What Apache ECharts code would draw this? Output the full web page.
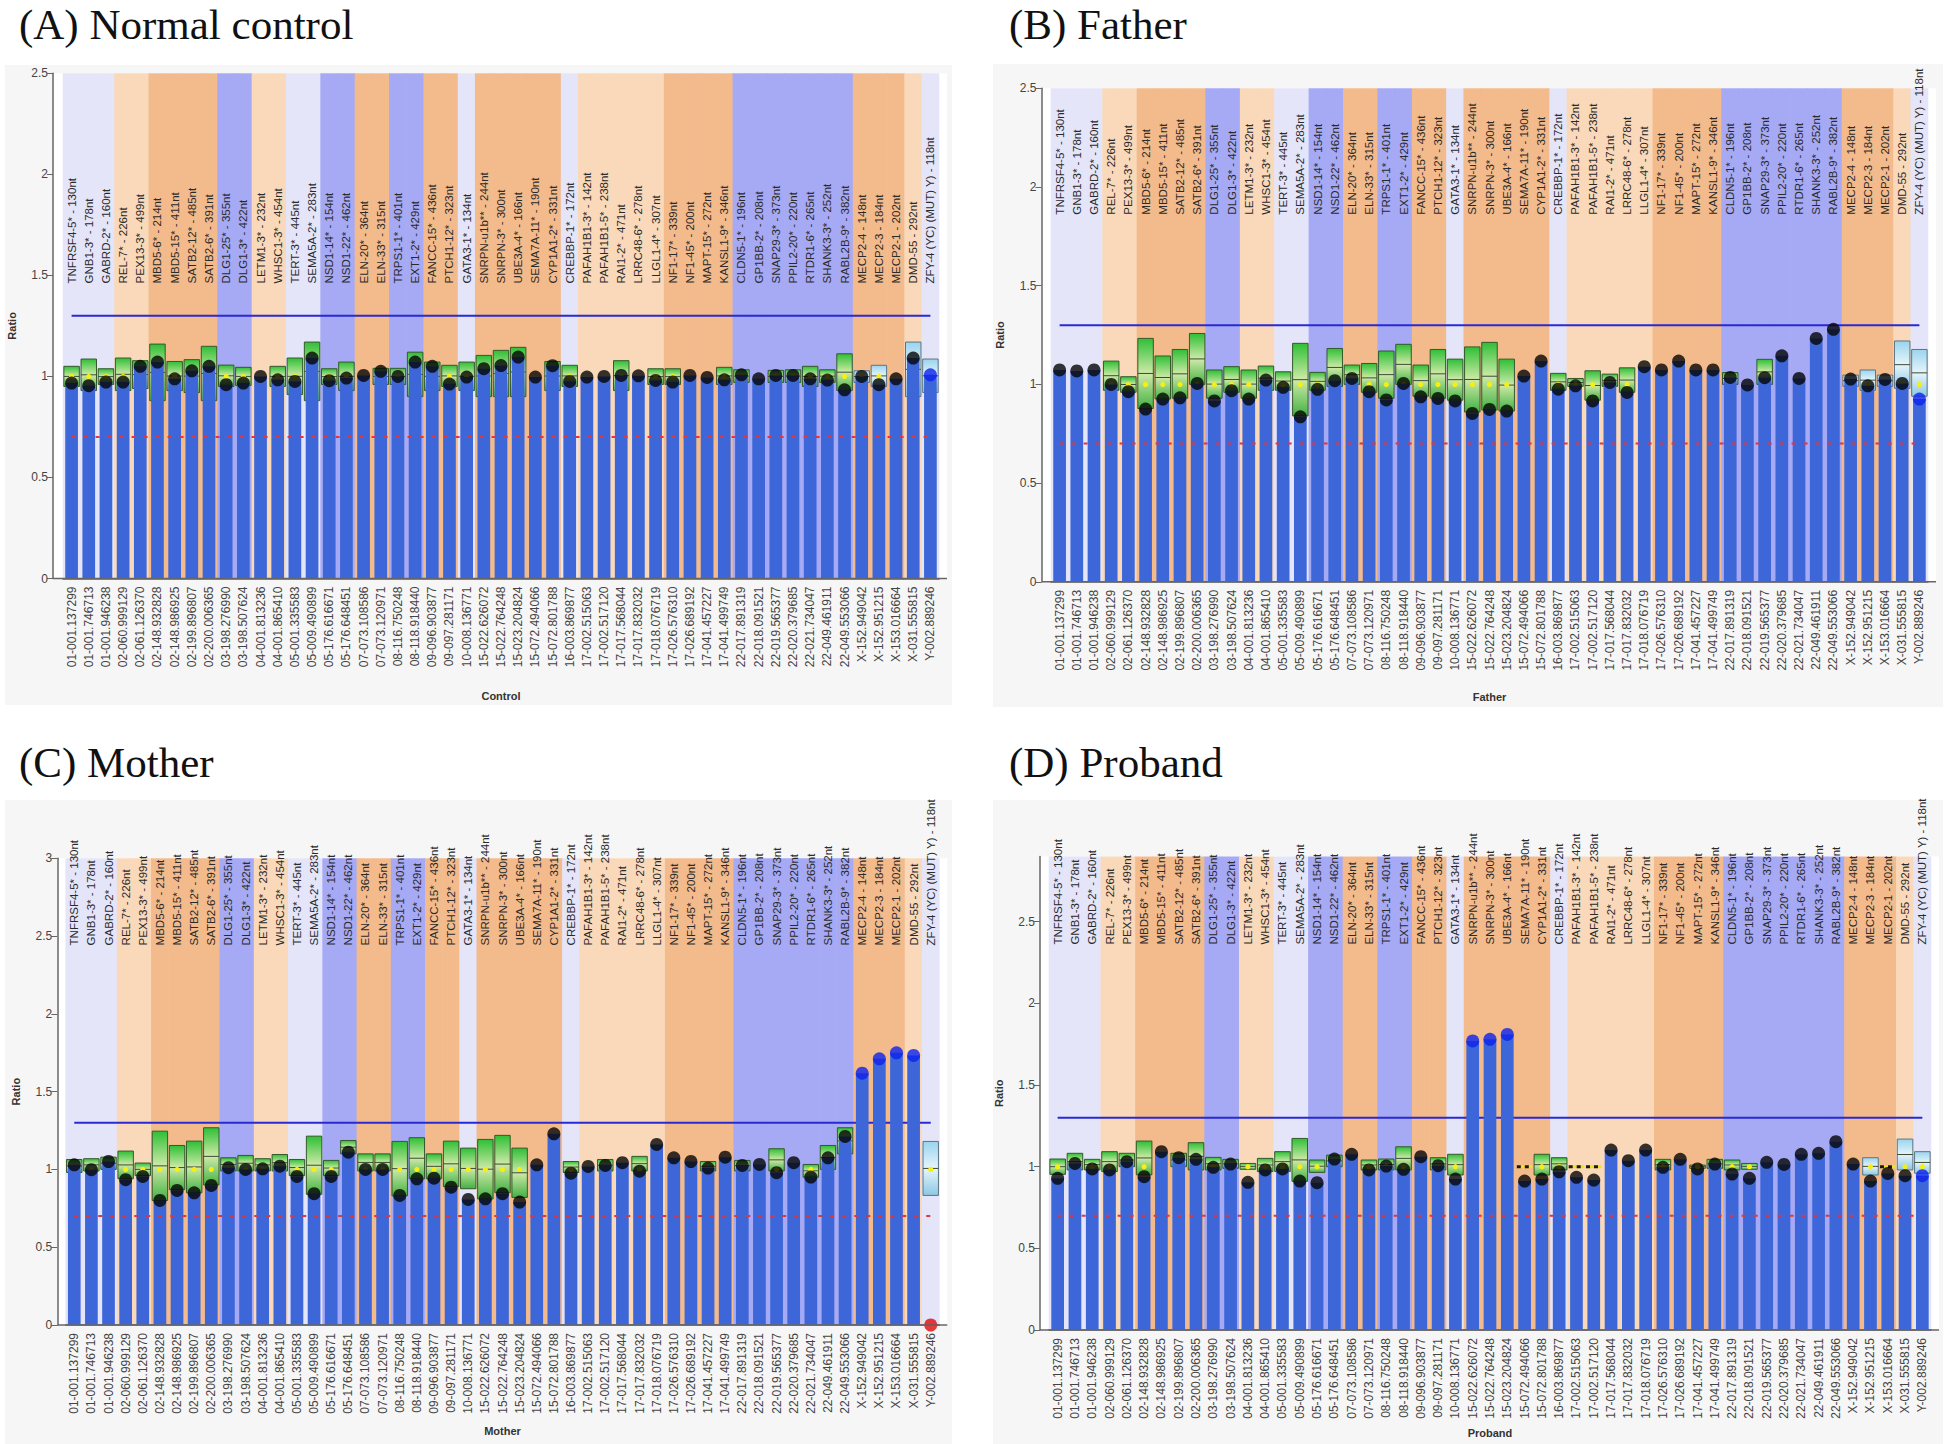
<!DOCTYPE html>
<html><head><meta charset="utf-8">
<script src="https://cdn.jsdelivr.net/npm/echarts@6/dist/echarts.min.js"></script>
<style>html,body{margin:0;padding:0;background:#fff}#c{width:1946px;height:1444px}</style>
</head><body><div id="c"></div>
<script>
// ---------- data ----------
const positions = ['01-001.137299','01-001.746713','01-001.946238','02-060.999129','02-061.126370','02-148.932828','02-148.986925','02-199.896807','02-200.006365','03-198.276990','03-198.507624','04-001.813236','04-001.865410','05-001.335583','05-009.490899','05-176.616671','05-176.648451','07-073.108586','07-073.120971','08-116.750248','08-118.918440','09-096.903877','09-097.281171','10-008.136771','15-022.626072','15-022.764248','15-023.204824','15-072.494066','15-072.801788','16-003.869877','17-002.515063','17-002.517120','17-017.568044','17-017.832032','17-018.076719','17-026.576310','17-026.689192','17-041.457227','17-041.499749','22-017.891319','22-018.091521','22-019.565377','22-020.379685','22-021.734047','22-049.461911','22-049.553066','X-152.949042','X-152.951215','X-153.016664','X-031.555815','Y-002.889246'];
const probes = ['TNFRSF4-5* - 130nt','GNB1-3* - 178nt','GABRD-2* - 160nt','REL-7* - 226nt','PEX13-3* - 499nt','MBD5-6* - 214nt','MBD5-15* - 411nt','SATB2-12* - 485nt','SATB2-6* - 391nt','DLG1-25* - 355nt','DLG1-3* - 422nt','LETM1-3* - 232nt','WHSC1-3* - 454nt','TERT-3* - 445nt','SEMA5A-2* - 283nt','NSD1-14* - 154nt','NSD1-22* - 462nt','ELN-20* - 364nt','ELN-33* - 315nt','TRPS1-1* - 401nt','EXT1-2* - 429nt','FANCC-15* - 436nt','PTCH1-12* - 323nt','GATA3-1* - 134nt','SNRPN-u1b** - 244nt','SNRPN-3* - 300nt','UBE3A-4* - 166nt','SEMA7A-11* - 190nt','CYP1A1-2* - 331nt','CREBBP-1* - 172nt','PAFAH1B1-3* - 142nt','PAFAH1B1-5* - 238nt','RAI1-2* - 471nt','LRRC48-6* - 278nt','LLGL1-4* - 307nt','NF1-17* - 339nt','NF1-45* - 200nt','MAPT-15* - 272nt','KANSL1-9* - 346nt','CLDN5-1* - 196nt','GP1BB-2* - 208nt','SNAP29-3* - 373nt','PPIL2-20* - 220nt','RTDR1-6* - 265nt','SHANK3-3* - 252nt','RABL2B-9* - 382nt','MECP2-4 - 148nt','MECP2-3 - 184nt','MECP2-1 - 202nt','DMD-55 - 292nt','ZFY-4 (YC) (MUT) Y) - 118nt'];
const regionType = ['L','L','L','P','P','O','O','O','O','B','B','P','P','L','L','B','B','O','O','B','B','O','O','L','O','O','O','O','O','L','P','P','P','P','P','O','O','O','O','B','B','B','B','B','B','B','O','O','O','P','L'];
const yTicks = [0, 0.5, 1, 1.5, 2, 2.5, 3];
const upperLimit = 1.3;
const lowerLimit = 0.7;

const ratioA = [0.967,0.954,0.972,0.972,1.05,1.071,0.988,1.028,1.05,0.959,0.967,1.0,0.983,0.975,1.091,0.979,0.992,1.005,1.025,1.0,1.071,1.05,0.962,0.997,1.038,1.054,1.096,0.997,1.053,0.975,0.997,1.0,1.005,1.003,0.98,0.972,1.005,0.995,0.983,1.008,0.988,1.005,1.005,0.988,0.982,0.934,1.0,0.959,0.988,1.091,1.008];
const boxHiA = [1.05,1.086,1.038,1.091,1.078,1.16,1.074,1.083,1.149,1.056,1.045,null,1.05,1.091,1.17,1.038,1.071,null,1.04,1.04,1.12,1.071,1.055,1.071,1.104,1.129,1.144,null,1.074,1.055,null,null,1.078,null,1.038,1.038,null,null,1.045,1.033,null,1.03,1.033,1.05,1.033,1.112,1.028,1.055,null,1.17,1.086];
const boxLoA = [0.95,0.93,0.96,0.93,0.94,0.88,0.93,0.92,0.88,0.95,0.955,null,0.95,0.91,0.88,0.96,0.93,null,0.96,0.96,0.9,0.93,0.95,0.93,0.9,0.9,0.9,null,0.93,0.95,null,null,0.93,null,0.96,0.96,null,null,0.96,0.97,null,0.97,0.97,0.95,0.97,0.93,0.97,0.95,null,0.9,0.92];
const gainA = [50], lossA = [];

const ratioB = [1.073,1.068,1.073,1.0,0.963,0.875,0.926,0.932,1.005,0.916,0.968,0.926,1.022,0.985,0.836,0.975,1.019,1.03,0.963,0.921,1.005,0.937,0.929,0.916,0.853,0.873,0.865,1.042,1.118,0.976,0.993,0.916,1.01,0.959,1.09,1.073,1.118,1.073,1.073,1.035,0.997,1.034,1.145,1.03,1.233,1.279,1.027,0.993,1.025,1.005,0.926];
const boxHiB = [null,null,null,1.118,1.039,1.233,1.144,1.177,1.258,1.073,1.09,1.073,1.093,1.064,1.208,1.061,1.182,1.098,1.106,1.169,1.203,1.098,1.177,1.128,1.19,1.213,1.128,null,null,1.056,1.03,1.069,1.052,1.084,null,null,null,null,null,1.06,null,1.127,null,null,null,null,1.047,1.073,1.047,1.22,1.177];
const boxLoB = [null,null,null,0.97,0.96,0.878,0.926,0.93,1.0,0.93,0.96,0.93,0.97,0.97,0.84,0.97,0.99,1.0,0.96,0.93,1.0,0.94,0.93,0.92,0.86,0.87,0.865,null,null,0.97,0.99,0.92,0.99,0.96,null,null,null,null,null,1.0,null,1.0,null,null,null,null,0.99,0.97,0.99,0.98,0.94];
const gainB = [50], lossB = [];

const ratioC = [1.03,0.998,1.051,0.934,0.955,0.801,0.865,0.85,0.897,1.011,1.0,1.004,1.021,0.955,0.844,0.955,1.111,1.0,1.0,0.833,0.94,0.944,0.886,0.807,0.811,0.844,0.79,1.03,1.229,0.976,1.019,1.026,1.043,0.989,1.161,1.075,1.051,1.009,1.079,1.026,1.032,0.979,1.043,0.951,1.075,1.212,1.619,1.711,1.75,1.733,0];
const boxHiC = [1.064,1.069,1.079,1.118,1.041,1.246,1.154,1.182,1.268,1.075,1.09,1.069,1.096,1.064,1.214,1.058,1.186,1.1,1.1,1.18,1.204,1.1,1.182,1.137,1.193,1.219,1.137,null,null,1.051,null,1.064,null,1.084,null,null,null,1.051,null,1.058,null,1.133,null,1.032,1.154,1.268,null,null,null,null,1.18];
const boxLoC = [0.98,0.99,1.0,0.94,0.96,0.8,0.87,0.85,0.9,0.99,0.99,0.99,0.99,0.96,0.84,0.96,1.1,0.99,0.99,0.83,0.94,0.94,0.89,0.876,0.81,0.85,0.82,null,null,0.98,null,0.99,null,0.99,null,null,null,0.99,null,0.99,null,0.99,null,0.95,1.0,1.1,null,null,null,null,0.833];
const gainC = [46,47,48,49], lossC = [50];

const ratioD = [0.929,1.02,0.986,0.98,1.031,0.939,1.092,1.055,1.045,0.996,1.016,0.904,0.98,0.986,0.912,0.902,1.047,1.076,0.98,1.004,0.984,1.061,1.006,0.924,1.77,1.78,1.81,0.912,0.924,0.969,0.935,0.918,1.102,1.037,1.102,0.996,1.045,0.986,1.016,0.955,0.929,1.027,1.014,1.076,1.082,1.153,1.016,0.912,0.959,0.945,0.945];
const boxHiD = [1.047,1.082,1.045,1.092,1.082,1.157,null,1.082,1.147,1.057,1.045,1.02,1.051,1.092,1.173,1.041,1.071,null,1.041,1.047,1.122,null,1.055,1.076,null,null,null,1.0,1.076,1.055,1.0,1.0,null,null,null,1.045,null,1.01,1.045,1.041,1.02,null,null,null,null,null,null,1.055,1.0,1.169,1.092];
const boxLoD = [0.953,0.98,0.98,0.97,1.0,0.95,null,1.0,0.98,0.98,0.99,0.984,0.97,0.97,0.91,0.965,1.0,null,0.98,0.98,0.98,null,0.98,0.949,null,null,null,1.0,0.949,0.98,1.0,1.0,null,null,null,0.98,null,0.99,0.99,0.98,0.984,null,null,null,null,null,null,0.949,1.0,0.98,0.96];
const gainD = [24,25,26,50], lossD = [];

// ---------- layout / style ----------
const BAND = {L:'#e5e5fa', P:'#f9d9ba', O:'#f3ba8c', B:'#a6a9f4'};
const FONT = 'Liberation Sans';
const panels = [
  {title:'(A) Normal control', tx:19, ty:3, name:'Control', left:63, top:73.3, width:876, height:505.2, max:2.5, off:10, labelAt:1.46, nameGap:112, bg:[5,65,947,640],
   ratio:ratioA, hi:boxHiA, lo:boxLoA, gain:gainA, loss:lossA},
  {title:'(B) Father', tx:1009, ty:3, name:'Father', left:1051, top:88.3, width:877, height:493.5, max:2.5, off:9.5, labelAt:1.86, nameGap:110, bg:[993,64,950,643],
   ratio:ratioB, hi:boxHiB, lo:boxLoB, gain:gainB, loss:lossB},
  {title:'(C) Mother', tx:19, ty:741, name:'Mother', left:65.7, top:858.3, width:873.6, height:466.7, max:3, off:8.4, labelAt:2.44, nameGap:100, bg:[5,800,947,644],
   ratio:ratioC, hi:boxHiC, lo:boxLoC, gain:gainC, loss:lossC},
  {title:'(D) Proband', tx:1009, ty:741, name:'Proband', left:1049, top:856.4, width:882, height:473.6, max:2.9, off:9, labelAt:2.36, nameGap:97, bg:[993,800,950,644],
   ratio:ratioD, hi:boxHiD, lo:boxLoD, gain:gainD, loss:lossD}
];

const grid = [], xAxis = [], yAxis = [], series = [], title = [], graphic = [];

panels.forEach((p, k) => {
  graphic.push({type:'rect', z:-10, silent:true, shape:{x:p.bg[0], y:p.bg[1], width:p.bg[2], height:p.bg[3]}, style:{fill:'#f6f6f6'}});
  graphic.push({type:'rect', z:-9, silent:true, shape:{x:p.left - p.off, y:p.top, width:p.width + p.off + 8, height:p.height}, style:{fill:'#ffffff'}});
  graphic.push({type:'line', z:10, silent:true, shape:{x1:p.left - p.off, y1:p.top + p.height, x2:p.left + p.width + 8, y2:p.top + p.height}, style:{stroke:'#666', lineWidth:1.5}});
  title.push({text:p.title, left:p.tx, top:p.ty, padding:0, textStyle:{fontFamily:'Liberation Serif', fontSize:43, fontWeight:'normal', color:'#111'}});
  grid.push({left:p.left, top:p.top, width:p.width, height:p.height, containLabel:false});
  xAxis.push({type:'category', gridIndex:k, data:positions, boundaryGap:true,
    name:p.name, nameLocation:'middle', nameGap:p.nameGap,
    nameTextStyle:{fontFamily:FONT, fontSize:11, fontWeight:'bold', color:'#333'},
    axisLine:{lineStyle:{color:'#666', width:1.5}},
    axisTick:{alignWithLabel:true, length:5, lineStyle:{color:'#666'}},
    axisLabel:{interval:0, rotate:90, margin:8, fontFamily:FONT, fontSize:12, color:'#444'}});
  yAxis.push({type:'value', gridIndex:k, min:0, max:p.max, interval:0.5, offset:p.off,
    name:'Ratio', nameLocation:'middle', nameGap:36, nameRotate:90,
    nameTextStyle:{fontFamily:FONT, fontSize:11, fontWeight:'bold', color:'#333'},
    axisLine:{show:true, lineStyle:{color:'#666', width:1.5}},
    axisTick:{show:true, length:6, lineStyle:{color:'#666'}, customValues:yTicks.filter(v => v <= p.max)},
    axisLabel:{fontFamily:FONT, fontSize:12, color:'#444', margin:5, customValues:yTicks.filter(v => v <= p.max)},
    splitLine:{show:false}});

  // region bands
  series.push({type:'custom', xAxisIndex:k, yAxisIndex:k, z:0, silent:true, clip:false,
    data:regionType.map((t, i) => [i, p.max]),
    renderItem:(params, api) => {
      const i = api.value(0);
      const w = api.size([1, 0])[0];
      const a = api.coord([i, p.max]), b = api.coord([i, 0]);
      return {type:'rect', shape:{x:a[0] - w / 2 - 0.3, y:a[1], width:w + 0.6, height:b[1] - a[1]},
        style:{fill:BAND[regionType[params.dataIndex]]}};
    }});

  // probe labels
  series.push({type:'custom', xAxisIndex:k, yAxisIndex:k, z:6, silent:true, clip:false,
    data:probes.map((n, i) => [i, p.labelAt]),
    renderItem:(params, api) => {
      const c = api.coord([api.value(0), api.value(1)]);
      return {type:'text', x:c[0], y:c[1], rotation:Math.PI / 2,
        style:{text:probes[params.dataIndex], x:0, y:0, fill:'#2a2a2a', font:'11.5px "' + FONT + '"', align:'left', verticalAlign:'middle'}};
    }});

  // reference boxes
  const boxData = [];
  p.hi.forEach((h, i) => { if (h != null) boxData.push([i, p.lo[i], h]); });
  series.push({type:'custom', xAxisIndex:k, yAxisIndex:k, z:2, silent:true,
    data:boxData,
    renderItem:(params, api) => {
      const i = api.value(0), lo = api.value(1), hi = api.value(2);
      const w = api.size([1, 0])[0] * 0.9;
      const t = api.coord([i, hi]), b = api.coord([i, lo]), one = api.coord([i, 1]);
      const x = t[0] - w / 2;
      const sex = /^[XY]/.test(positions[i]);
      if (hi - lo < 0.005) {
        return {type:'group', children:[
          {type:'line', shape:{x1:x, y1:one[1], x2:x + w, y2:one[1]}, style:{stroke:'#f2e21a', lineWidth:3}},
          {type:'line', shape:{x1:x, y1:one[1], x2:x + w, y2:one[1]}, style:{stroke:'#1a1a1a', lineWidth:3, lineDash:[4, 4]}}
        ]};
      }
      const fill = sex
        ? new echarts.graphic.LinearGradient(0, 0, 0, 1, [{offset:0, color:'#9ad4ee'}, {offset:0.5, color:'#e6f5fb'}, {offset:1, color:'#8cc8e4'}])
        : new echarts.graphic.LinearGradient(0, 0, 0, 1, [{offset:0, color:'#2fbf36'}, {offset:0.5, color:'#cfeaa8'}, {offset:1, color:'#43b144'}]);
      const mid = (t[1] + b[1]) / 2;
      const ch = [
        {type:'rect', shape:{x:x, y:t[1], width:w, height:b[1] - t[1]}, style:{fill:fill, stroke:sex ? '#5e7482' : '#35592c', lineWidth:1}},
        {type:'line', shape:{x1:x, y1:mid, x2:x + w, y2:mid}, style:{stroke:'#3b4a33', lineWidth:1}}
      ];
      if (lo <= 1 && hi >= 1) {
        ch.push({type:'circle', shape:{cx:one[0], cy:one[1], r:2.6}, style:{fill:'#f7ee12'}});
      }
      return {type:'group', children:ch};
    }});

  // upper threshold
  series.push({type:'line', xAxisIndex:k, yAxisIndex:k, z:2.5, silent:true, symbol:'none',
    data:positions.map(() => upperLimit), lineStyle:{color:'#2a2ad2', width:2}});
  // ratio bars
  series.push({type:'bar', xAxisIndex:k, yAxisIndex:k, z:3, silent:true, barWidth:12.7,
    data:p.ratio, itemStyle:{color:'#3d67d9'}});
  // lower threshold
  series.push({type:'line', xAxisIndex:k, yAxisIndex:k, z:4, silent:true, symbol:'none',
    data:positions.map(() => lowerLimit), lineStyle:{color:'#e2353c', width:2, type:[4, 8]}});
  // ratio dots
  series.push({type:'scatter', xAxisIndex:k, yAxisIndex:k, z:5, silent:true, symbolSize:13,
    data:p.ratio.map((v, i) => ({value:v, itemStyle:{color: p.gain.includes(i) ? '#0b22ee' : (p.loss.includes(i) ? '#e00b0b' : '#050505')}}))});
});

const chart = echarts.init(document.getElementById('c'), null, {renderer:'svg', width:1946, height:1444});
chart.setOption({animation:false, backgroundColor:'#ffffff', title, grid, xAxis, yAxis, series, graphic});
</script>
</body></html>
